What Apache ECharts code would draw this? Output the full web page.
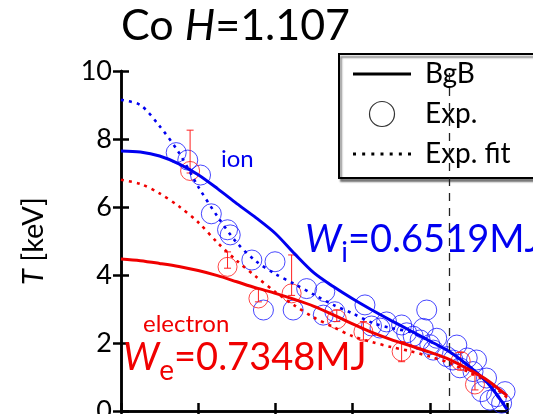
<!DOCTYPE html>
<html>
<head>
<meta charset="utf-8">
<script src="https://cdn.jsdelivr.net/npm/echarts@6/dist/echarts.min.js"></script>
<style>
html, body { margin: 0; padding: 0; background: #fff; }
#chart { width: 533px; height: 414px; }
</style>
</head>
<body>
<div id="chart"></div>
<script>
// Normalised minor radius grid for the profiles
const rho = [0, 0.05, 0.1, 0.15, 0.2, 0.25, 0.3, 0.35, 0.4, 0.45, 0.5,
             0.55, 0.6, 0.65, 0.7, 0.75, 0.8, 0.85, 0.9, 0.95, 1.0];

// BgB transport model profiles [keV]
const ionBgB = [7.65, 7.62, 7.5, 7.27, 6.95, 6.54, 6.1, 5.68, 5.22, 4.62, 4.06,
                3.66, 3.3, 2.97, 2.66, 2.36, 2.06, 1.75, 1.33, 0.82, 0.05];
const eleBgB = [4.47, 4.42, 4.34, 4.25, 4.13, 3.98, 3.8, 3.62, 3.46, 3.28, 3.08,
                2.83, 2.56, 2.31, 2.1, 1.92, 1.73, 1.52, 1.23, 0.9, 0.45];

// Fits to the measured profiles [keV]
const ionFit = [9.15, 9.0, 8.38, 7.6, 6.6, 5.72, 4.95, 4.4, 4.03, 3.73, 3.42,
                3.12, 2.87, 2.6, 2.44, 2.32, 2.05, 1.75, 1.33, 0.82, 0.08];
const eleFit = [6.8, 6.68, 6.4, 6.02, 5.55, 4.95, 4.42, 3.95, 3.5, 3.1, 2.75,
                2.47, 2.2, 2.03, 1.88, 1.76, 1.6, 1.42, 1.15, 0.85, 0.4];

// Measured ion temperature
const ionExpRho = [0.143, 0.173, 0.206, 0.234, 0.276, 0.283, 0.339, 0.399, 0.369, 0.446,
                   0.481, 0.528, 0.524, 0.554, 0.632, 0.649, 0.671, 0.688, 0.727, 0.783,
                   0.792, 0.757, 0.775, 0.818, 0.809, 0.87, 0.844, 0.878, 0.921, 0.897,
                   0.912, 0.947, 0.934, 0.956, 0.973, 0.995, 0.986, 0.86, 0.74, 0.8];
const ionExpT   = [7.6, 7.38, 6.94, 5.8, 5.33, 5.18, 4.44, 4.39, 2.97, 2.97,
                   3.6, 3.51, 2.82, 2.92, 3.12, 2.5, 2.44, 2.62, 2.53, 2.43,
                   2.97, 2.2, 2.09, 2.14, 1.79, 1.94, 1.6, 1.27, 1.5, 1.56,
                   1.16, 0.97, 0.57, 0.32, 0.42, 0.57, 0.23, 1.5, 2.3, 1.95];

// Measured electron temperature with error range
const eleExpRho  = [0.179, 0.276, 0.356, 0.442, 0.559, 0.628, 0.727, 0.88, 0.917];
const eleExpT    = [7.06, 4.24, 3.31, 3.46, 2.7, 2.33, 1.75, 1.47, 0.78];
const eleErrLow  = [7.0, 4.2, 3.21, 3.4, 2.63, 2.09, 1.45, 1.21, 0.62];
const eleErrHigh = [8.26, 4.68, 3.6, 4.59, 2.97, 2.63, 2.04, 1.72, 1.11];

// Axis ticks
const xTicks = [0, 0.2, 0.4, 0.6, 0.8, 1.0];
const yTicks = [0, 2, 4, 6, 8, 10];

// Separatrix position
const separatrixRho = 0.85;

// Stored energies
const ionEnergy = '0.6519MJ';
const eleEnergy = '0.7348MJ';

const BLUE = '#0000f0';
const RED = '#f00000';
const FONT = 'Lato';

const pairs = (xs, ys) => xs.map((x, i) => [x, ys[i]]);

// Lay out a run of text pieces left to right on a common baseline
const measureCtx = document.createElement('canvas').getContext('2d');
function textRun(x, baseline, pieces) {
  let cx = x;
  const out = [];
  pieces.forEach(p => {
    const font = (p.italic ? 'italic ' : '') + p.size + 'px ' + FONT;
    measureCtx.font = font;
    out.push({
      type: 'text', x: cx, y: baseline + (p.dy || 0) - 0.36 * p.size, z: 20,
      style: { text: p.text, font: font, fill: p.color, verticalAlign: 'middle', align: 'left' }
    });
    cx += measureCtx.measureText(p.text).width;
  });
  return out;
}

const dotted = [3, 5];
const gridTop = 71, gridLeft = 121, gridRight = 26, gridBottom = 3;

const axisLineStyle = { color: '#000', width: 2.5 };
const tickStyle = { show: true, inside: true, length: 8, lineStyle: { color: '#000', width: 2.5 } };

const graphics = [].concat(
  textRun(221, 168, [{ text: 'ion', size: 24, color: BLUE }]),
  textRun(143, 333, [{ text: 'electron', size: 24, color: RED }]),
  textRun(305, 253, [
    { text: 'W', size: 38, italic: true, color: BLUE },
    { text: 'i', size: 28, dy: 10, color: BLUE },
    { text: '=' + ionEnergy, size: 38, color: BLUE }
  ]),
  textRun(123, 371, [
    { text: 'W', size: 38, italic: true, color: RED },
    { text: 'e', size: 28, dy: 10, color: RED },
    { text: '=' + eleEnergy, size: 38, color: RED }
  ])
);

const chart = echarts.init(document.getElementById('chart'), null, { renderer: 'canvas' });

chart.setOption({
  animation: false,
  backgroundColor: '#fff',
  title: {
    text: '{n|Co }{i|H}{n|=1.107}',
    left: 121, top: 5, padding: 0,
    textStyle: {
      fontWeight: 'normal',
      rich: {
        n: { fontFamily: FONT, fontSize: 43, fontWeight: 'normal', color: '#000' },
        i: { fontFamily: FONT, fontSize: 43, fontWeight: 'normal', fontStyle: 'italic', color: '#000' }
      }
    }
  },
  grid: {
    left: gridLeft, top: gridTop, right: gridRight, bottom: gridBottom,
    containLabel: false, outerBoundsMode: 'none'
  },
  legend: {
    orient: 'vertical',
    left: 339, top: 54,
    padding: [6, 90, 10, 14],
    itemWidth: 58, itemHeight: 25, itemGap: 12,
    backgroundColor: '#fff',
    borderColor: '#000', borderWidth: 2,
    shadowColor: 'rgba(0,0,0,0.45)', shadowOffsetX: 2, shadowOffsetY: 3, shadowBlur: 2,
    selectedMode: false,
    textStyle: { fontFamily: FONT, fontSize: 28, color: '#000', padding: [0, 0, 0, 9] },
    data: [
      { name: 'BgB', icon: 'path://M0,0H58V3H0Z', itemStyle: { color: '#000', borderWidth: 0 } },
      { name: 'Exp.', icon: 'circle', itemStyle: { color: 'rgba(0,0,0,0)', borderColor: '#000', borderWidth: 1.2 } },
      { name: 'Exp. fit',
        icon: 'path://M0,0h3v3h-3z M9.2,0h3v3h-3z M18.4,0h3v3h-3z M27.6,0h3v3h-3z M36.8,0h3v3h-3z M46,0h3v3h-3z M55.2,0h3v3h-3z',
        itemStyle: { color: '#000', borderWidth: 0 } }
    ]
  },
  xAxis: [
    {
      type: 'value', position: 'bottom', min: xTicks[0], max: xTicks[xTicks.length - 1],
      interval: xTicks[1] - xTicks[0],
      axisLine: { show: true, lineStyle: axisLineStyle },
      axisTick: tickStyle,
      axisLabel: { show: false },
      splitLine: { show: false }
    },
    {
      type: 'value', position: 'top', min: xTicks[0], max: xTicks[xTicks.length - 1],
      interval: xTicks[1] - xTicks[0],
      axisLine: { show: true, lineStyle: axisLineStyle },
      axisTick: tickStyle,
      axisLabel: { show: false },
      splitLine: { show: false }
    }
  ],
  yAxis: [
    {
      type: 'value', position: 'left', min: yTicks[0], max: yTicks[yTicks.length - 1],
      interval: yTicks[1] - yTicks[0],
      name: '{i|T} [keV]',
      nameLocation: 'middle', nameGap: 73, nameRotate: 90,
      nameTextStyle: {
        fontFamily: FONT, fontSize: 29, color: '#000',
        rich: { i: { fontFamily: FONT, fontSize: 29, fontStyle: 'italic', color: '#000' } }
      },
      axisLine: { show: true, lineStyle: axisLineStyle },
      axisTick: tickStyle,
      axisLabel: {
        show: true, fontFamily: FONT, fontSize: 27, color: '#000', margin: 9,
        padding: [0, 0, 7, 0]
      },
      splitLine: { show: false }
    },
    {
      type: 'value', position: 'right', min: yTicks[0], max: yTicks[yTicks.length - 1],
      interval: yTicks[1] - yTicks[0],
      axisLine: { show: true, lineStyle: axisLineStyle },
      axisTick: tickStyle,
      axisLabel: { show: false },
      splitLine: { show: false }
    }
  ],
  series: [
    {
      name: 'Exp.', type: 'scatter', symbol: 'circle', symbolSize: 20, z: 2,
      data: pairs(ionExpRho, ionExpT),
      itemStyle: { color: 'rgba(0,0,0,0)', borderColor: '#1a1aff', borderWidth: 1 }
    },
    {
      name: 'Exp.', type: 'scatter', symbol: 'circle', symbolSize: 19, z: 3,
      data: pairs(eleExpRho, eleExpT),
      itemStyle: { color: 'rgba(0,0,0,0)', borderColor: '#ff1a1a', borderWidth: 1 }
    },
    {
      name: 'errors', type: 'custom', z: 3,
      data: eleExpRho.map((r, i) => [r, eleErrLow[i], eleErrHigh[i]]),
      encode: { x: 0, y: [1, 2] },
      renderItem: function (params, api) {
        const lo = api.coord([api.value(0), api.value(1)]);
        const hi = api.coord([api.value(0), api.value(2)]);
        const cap = 3.5;
        const st = { stroke: '#ff2020', lineWidth: 1 };
        return {
          type: 'group',
          children: [
            { type: 'line', shape: { x1: lo[0], y1: lo[1], x2: hi[0], y2: hi[1] }, style: st },
            { type: 'line', shape: { x1: lo[0] - cap, y1: lo[1], x2: lo[0] + cap, y2: lo[1] }, style: st },
            { type: 'line', shape: { x1: hi[0] - cap, y1: hi[1], x2: hi[0] + cap, y2: hi[1] }, style: st }
          ]
        };
      }
    },
    {
      name: 'Exp. fit', type: 'line', showSymbol: false, smooth: 0.3, z: 4,
      data: pairs(rho, ionFit),
      lineStyle: { color: BLUE, width: 2.6, type: dotted }
    },
    {
      name: 'Exp. fit', type: 'line', showSymbol: false, smooth: 0.3, z: 4,
      data: pairs(rho, eleFit),
      lineStyle: { color: RED, width: 2.6, type: dotted }
    },
    {
      name: 'BgB', type: 'line', showSymbol: false, smooth: 0.3, z: 5,
      data: pairs(rho, ionBgB),
      lineStyle: { color: BLUE, width: 3 },
      markLine: {
        silent: true, symbol: 'none', label: { show: false },
        lineStyle: { color: '#222', type: [8, 7], width: 1.3 },
        data: [{ xAxis: separatrixRho }]
      }
    },
    {
      name: 'BgB', type: 'line', showSymbol: false, smooth: 0.3, z: 5,
      data: pairs(rho, eleBgB),
      lineStyle: { color: RED, width: 3 }
    }
  ],
  graphic: graphics
});
</script>
</body>
</html>
